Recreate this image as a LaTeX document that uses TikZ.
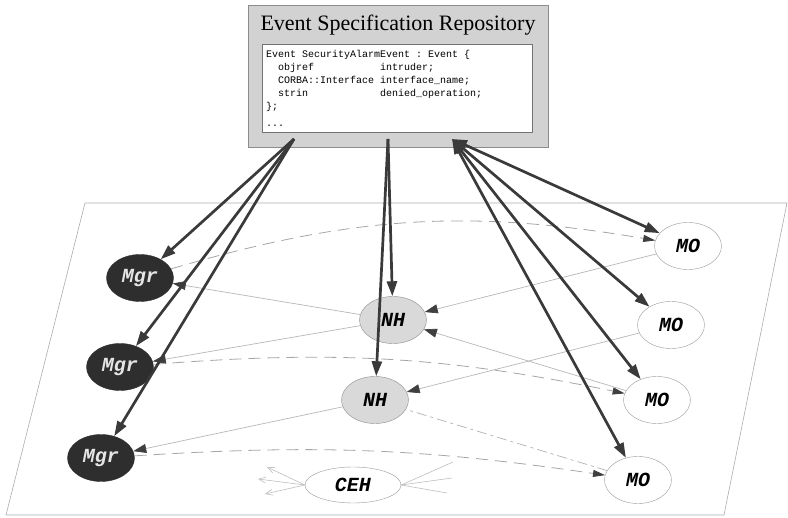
\documentclass[tikz,border=0pt]{standalone}
\usepackage{fontspec}
\setmainfont{Liberation Serif}
\setmonofont{Liberation Mono}
\usetikzlibrary{arrows.meta,shapes.geometric}
\definecolor{ink}{HTML}{3A3A3A}
\definecolor{mgrfill}{HTML}{2E2E2E}
\definecolor{nhfill}{HTML}{D9D9D9}
\definecolor{repofill}{HTML}{D2D2D2}
\definecolor{tipgray}{HTML}{3F3F3F}

\begin{document}
\begin{tikzpicture}[x=1pt,y=-1pt,
  agent/.style={ellipse, minimum width=67pt, minimum height=47pt, inner sep=0pt,
    font=\fontsize{20}{20}\selectfont\ttfamily\bfseries\itshape},
  mgrnode/.style={agent, fill=mgrfill, draw=mgrfill, text=white!90!black},
  nhnode/.style={agent, fill=nhfill, draw=black!45},
  monode/.style={agent, fill=white, draw=black!40},
  repoarrow/.style={draw=ink, line width=2.7pt, -{Triangle[length=15pt,width=10pt]}},
  duplex/.style={repoarrow, {Triangle[length=15pt,width=10pt]}-{Triangle[length=15pt,width=10pt]}},
  feedline/.style={draw=black!28, line width=0.7pt, -{Triangle[length=13pt,width=9pt,color=tipgray]}},
  notifyline/.style={draw=black!35, line width=0.8pt, dash pattern=on 12pt off 7pt,
    -{Triangle[length=12pt,width=7pt,color=tipgray]}},
  cehline/.style={draw=black!25, line width=0.6pt}]
\useasboundingbox[fill=white] (0,0) rectangle (788,518);

% the plane
\draw[black!32, line width=0.6pt] (85,203) -- (787,203) -- (724,515) -- (6,515) -- cycle;

% repository
\node[draw=black!45, fill=repofill, minimum width=300pt, minimum height=142pt, inner sep=0pt] (repo) at (398,76) {};
\node[draw=black!55, fill=white, minimum width=270pt, minimum height=88pt, inner sep=0pt] (spec) at (397,88) {};
\node[font=\fontsize{22}{26}\selectfont] (title) at (398,25) {Event Specification Repository};
\node[anchor=north west, inner sep=0pt, align=left, font=\fontsize{10}{13}\selectfont\ttfamily] (idl) at (266,50)
  {Event SecurityAlarmEvent : Event \{\\
   \hspace*{1.2em}\makebox[10.2em][l]{objref}intruder;\\
   \hspace*{1.2em}\makebox[10.2em][l]{CORBA::Interface}interface\_name;\\
   \hspace*{1.2em}\makebox[10.2em][l]{strin}denied\_operation;\\
   \};\\[4pt]
   ...};
\coordinate (mgrsrc) at (294,139);
\coordinate (nhsrc) at (388,139);
\coordinate (mosrc) at (452,139);

% agents
\node[mgrnode] (mgr1) at (140,278) {Mgr};
\node[mgrnode] (mgr2) at (120,367) {Mgr};
\node[mgrnode] (mgr3) at (101,458) {Mgr};
\node[nhnode] (nh1) at (393,320) {NH};
\node[nhnode] (nh2) at (375,400) {NH};
\node[monode] (mo1) at (688,246) {MO};
\node[monode] (mo2) at (671,325) {MO};
\node[monode] (mo3) at (657,400) {MO};
\node[monode] (mo4) at (638,480) {MO};
\node[monode, minimum width=96pt, minimum height=36pt] (ceh) at (353,485) {CEH};

% event flow
\draw[feedline] (nh1) -- (mgr1);
\draw[feedline] (nh1) -- (mgr2);
\draw[feedline] (nh2) -- (mgr3);
\draw[feedline] (mo1) -- (nh1);
\draw[feedline] (mo3) -- (nh1);
\draw[feedline] (mo2) -- (nh2);
\draw[draw=black!30, line width=0.7pt, dash pattern=on 10pt off 4pt on 3pt off 4pt] (mo4) -- (nh2);
\draw[notifyline] (mgr1) to[bend left=13] (mo1);
\draw[notifyline] (mgr2) to[bend left=8] (mo3);
\draw[notifyline] (mgr3) to[bend left=6] (mo4);

% channel
\foreach \x/\y [count=\i] in {267/467,258/479,265/494}
  \coordinate (cehl\i) at (\x,\y);
\foreach \x/\y [count=\i] in {453/462,452/478,447/493}
  \coordinate (cehr\i) at (\x,\y);
\foreach \i in {1,2,3} {
  \draw[cehline, -{Straight Barb[length=7pt,width=6pt]}] (ceh.west) -- (cehl\i);
  \draw[cehline] (cehr\i) -- (ceh.east);
}

% repository access
\foreach \m in {mgr1,mgr2,mgr3}
  \draw[repoarrow] (mgrsrc) -- (\m);
\draw[repoarrow] (nhsrc) -- (nh1);
\draw[repoarrow] (nhsrc) -- (nh2);
\foreach \m in {mo1,mo2,mo3,mo4}
  \draw[duplex] (mosrc) -- (\m);
\end{tikzpicture}
\end{document}
